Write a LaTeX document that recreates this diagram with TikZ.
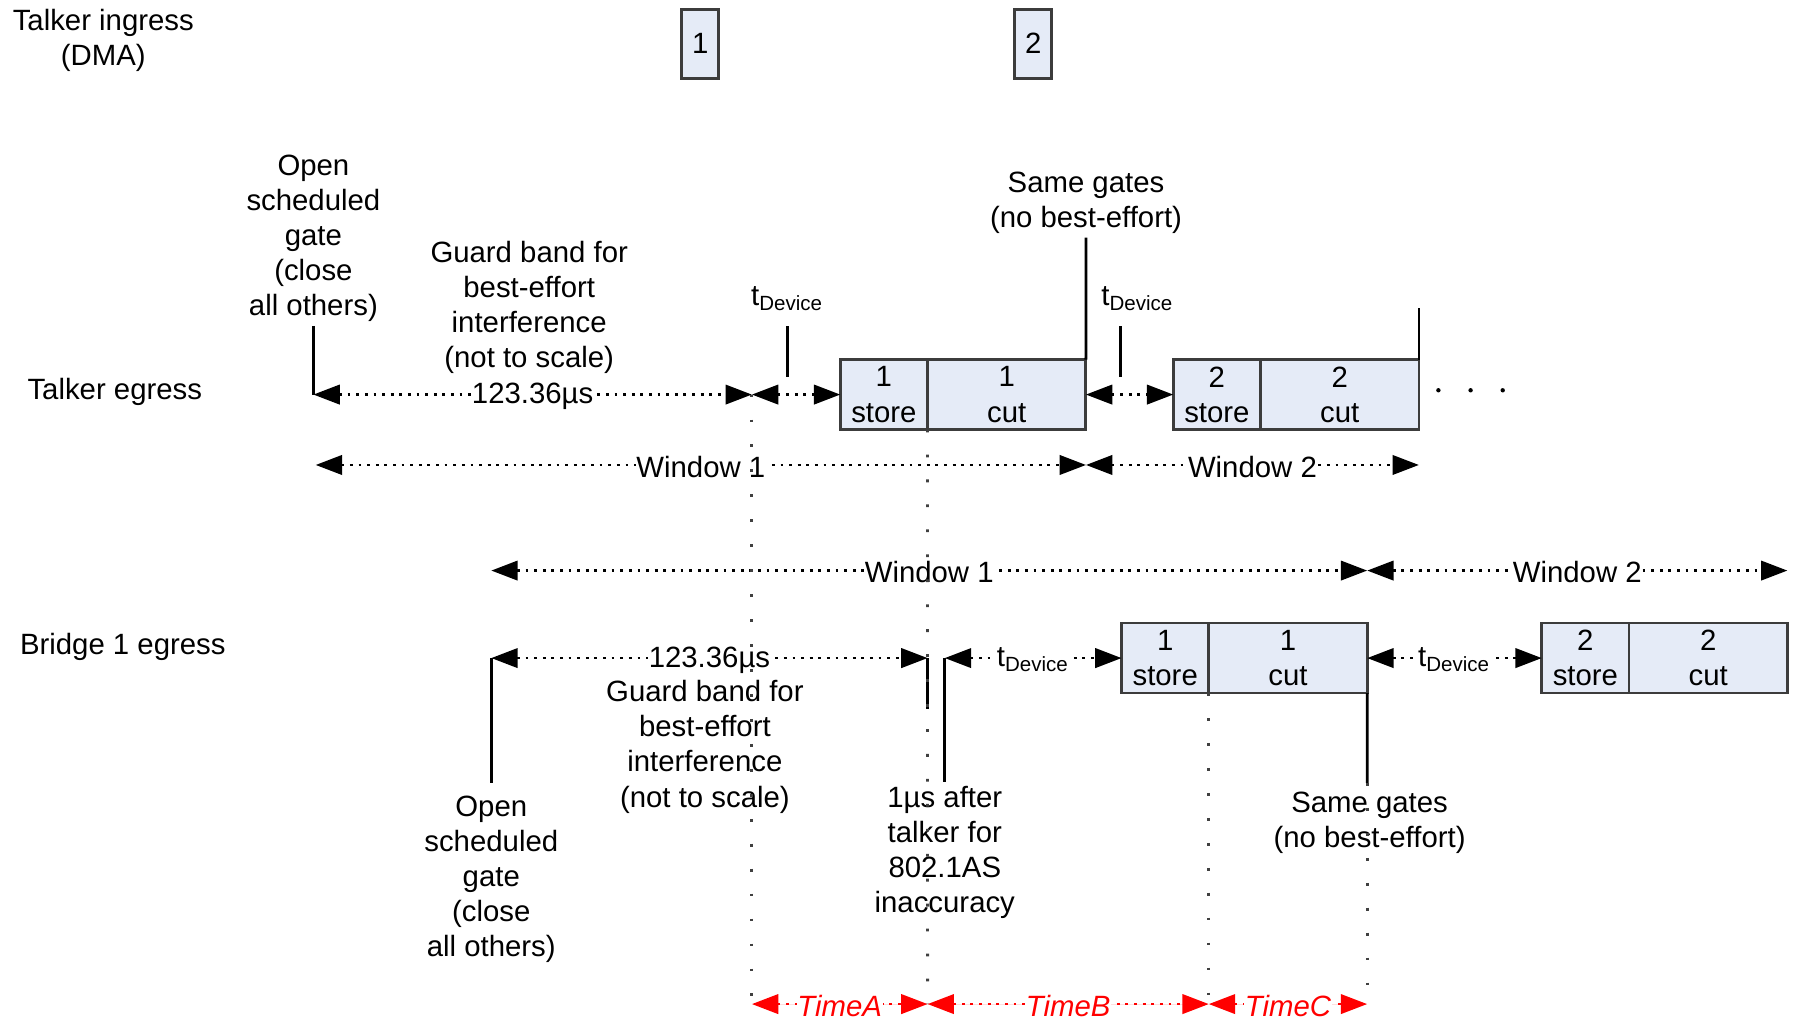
\documentclass[tikz,border=0pt]{standalone}
\usepackage{fontspec}
\setmainfont{Liberation Sans}
\usetikzlibrary{arrows.meta,positioning}
\definecolor{pktfill}{RGB}{229,235,247}
\definecolor{pktline}{RGB}{60,60,60}
\tikzset{
    txt/.style = {
        font=\fontsize{8.35pt}{10pt}\selectfont,
        align=center,
        inner sep=1pt
    },
    note/.style = {
        txt,
        yshift=-0.8pt
    },
    dma_box/.style = {
        txt,
        draw=pktline,
        fill=pktfill,
        line width=0.8pt,
        minimum width=0.37cm,
        minimum height=0.69cm
    },
    store_box/.style = {
        txt,
        draw=pktline,
        fill=pktfill,
        line width=0.8pt,
        outer sep=0pt,
        anchor=west,
        minimum width=0.872cm,
        minimum height=0.70cm
    },
    cut_box/.style = {
        store_box,
        minimum width=1.584cm
    },
    span_line/.style = {
        draw=black,
        line width=0.8pt,
        dash pattern=on 0.8pt off 1.65pt,
        >={Triangle[length=7.5pt,width=5.5pt]},
        <->
    },
    red_line/.style = {
        span_line,
        draw=red,
        fill=red
    },
    span_lbl/.style = {
        txt,
        fill=white,
        inner xsep=0.2pt,
        inner ysep=1pt,
        yshift=-0.5pt,
        midway
    },
    red_lbl/.style = {
        span_lbl,
        yshift=0pt,
        text=red,
        font=\fontsize{8.35pt}{10pt}\selectfont\itshape
    },
    tick_line/.style = {
        draw=black,
        line width=0.8pt
    },
    guide_line/.style = {
        draw=black!75,
        line width=0.8pt,
        dash pattern=on 0.8pt off 6.3pt
    },
}
\begin{document}
\begin{tikzpicture}
    \useasboundingbox (0,0) rectangle (18,10.206);

    % talker ingress
    \node[note] (ingress) at (1.033,9.827) {Talker ingress\\(DMA)};
    \node[dma_box] (dma1) at (7.003,9.769) {1};
    \node[dma_box] (dma2) at (10.332,9.769) {2};

    % talker egress
    \node[note] (tegress) at (1.148,6.314) {Talker egress};
    \node[note] (topen) at (3.134,7.852) {Open\\scheduled\\gate\\(close\\all others)};
    \node[note] (tguard) at (5.292,7.158) {Guard band for\\best-effort\\interference\\(not to scale)};
    \node[note] (tsame) at (10.860,8.208) {Same gates\\(no best-effort)};
    \node[note] (tdev1) at (7.875,7.250) {t\textsubscript{Device}};
    \node[note] (tdev2) at (11.377,7.250) {t\textsubscript{Device}};
    \node[store_box] (ts1) at (8.403,6.260) {1\\store};
    \node[cut_box] (tc1) at (ts1.east) {1\\cut};
    \node[store_box] (ts2) at (11.733,6.260) {2\\store};
    \node[cut_box] (tc2) at (ts2.east) {2\\cut};
    \coordinate (tgate) at (3.134,6.260);
    \coordinate (tguardend) at (7.519,6.260);
    \coordinate (tdev1top) at (7.875,6.945);
    \coordinate (tdev1bot) at (7.875,6.440);
    \coordinate (tdev2top) at (11.204,6.945);
    \coordinate (tdev2bot) at (11.204,6.440);
    \coordinate (tc2end) at (14.189,7.129);

    \draw[tick_line] (topen) -- (tgate);
    \draw[tick_line] (tc1.north east) -- (tsame);
    \draw[tick_line] (tc2.north east) -- (tc2end);
    \draw[tick_line] (tdev1top) -- (tdev1bot);
    \draw[tick_line] (tdev2top) -- (tdev2bot);
    \draw[span_line] (tgate) -- node[span_lbl] {123.36µs} (tguardend);
    \draw[span_line] (tguardend) -- (ts1.west);
    \draw[span_line] (tc1.east) -- (ts2.west);
    \foreach \x in {14.384,14.706,15.027}
        \fill (\x,6.303) circle (0.022);

    % windows
    \coordinate (w1a) at (3.157,5.556);
    \coordinate (w1b) at (10.860,5.556);
    \coordinate (w1c) at (14.189,5.556);
    \coordinate (w2a) at (4.913,4.500);
    \coordinate (w2b) at (13.672,4.500);
    \coordinate (w2c) at (17.874,4.500);
    \draw[span_line] (w1a) -- node[span_lbl] {Window 1} (w1b);
    \draw[span_line] (w1b) -- node[span_lbl] {Window 2} (w1c);
    \draw[span_line] (w2a) -- node[span_lbl] {Window 1} (w2b);
    \draw[span_line] (w2b) -- node[span_lbl] {Window 2} (w2c);

    % bridge 1 egress
    \node[note] (begress) at (1.228,3.765) {Bridge 1 egress};
    \node[note] (bopen) at (4.913,1.441) {Open\\scheduled\\gate\\(close\\all others)};
    \node[note] (bguard) at (7.049,2.767) {Guard band for\\best-effort\\interference\\(not to scale)};
    \node[note] (bafter) at (9.448,1.711) {1µs after\\talker for\\802.1AS\\inaccuracy};
    \node[note] (bsame) at (13.696,2.009) {Same gates\\(no best-effort)};
    \node[store_box] (bs1) at (11.216,3.625) {1\\store};
    \node[cut_box] (bc1) at (bs1.east) {1\\cut};
    \node[store_box] (bs2) at (15.418,3.625) {2\\store};
    \node[cut_box] (bc2) at (bs2.east) {2\\cut};
    \coordinate (bgate) at (4.913,3.625);
    \coordinate (bgatebot) at (4.913,2.376);
    \coordinate (bguardend) at (9.276,3.625);
    \coordinate (bguardtick) at (9.276,3.111);
    \coordinate (bwait) at (9.448,3.625);
    \coordinate (bsamebot) at (13.672,2.376);

    \draw[tick_line] (bgate) -- (bgatebot);
    \draw[tick_line] (bguardend) -- (bguardtick);
    \draw[tick_line] (bwait) -- (bafter);
    \draw[tick_line] (bc1.south east) -- (bsamebot);
    \draw[span_line] (bgate) -- node[span_lbl] {123.36µs} (bguardend);
    \draw[span_line] (bwait) -- node[span_lbl] {t\textsubscript{Device}} (bs1.west);
    \draw[span_line] (bc1.east) -- node[span_lbl] {t\textsubscript{Device}} (bs2.west);

    % timing
    \coordinate (ra) at (7.519,0.165);
    \coordinate (rb) at (9.276,0.165);
    \coordinate (rc) at (12.088,0.165);
    \coordinate (rd) at (13.672,0.165);
    \draw[guide_line] (tguardend) -- (ra);
    \draw[guide_line] (ts1.south east) -- (rb);
    \draw[guide_line] (bs1.south east) -- (rc);
    \draw[guide_line] (bsamebot) -- (rd);
    \draw[red_line] (ra) -- node[red_lbl] {TimeA} (rb);
    \draw[red_line] (rb) -- node[red_lbl] {TimeB} (rc);
    \draw[red_line] (rc) -- node[red_lbl] {TimeC} (rd);
\end{tikzpicture}
\end{document}
